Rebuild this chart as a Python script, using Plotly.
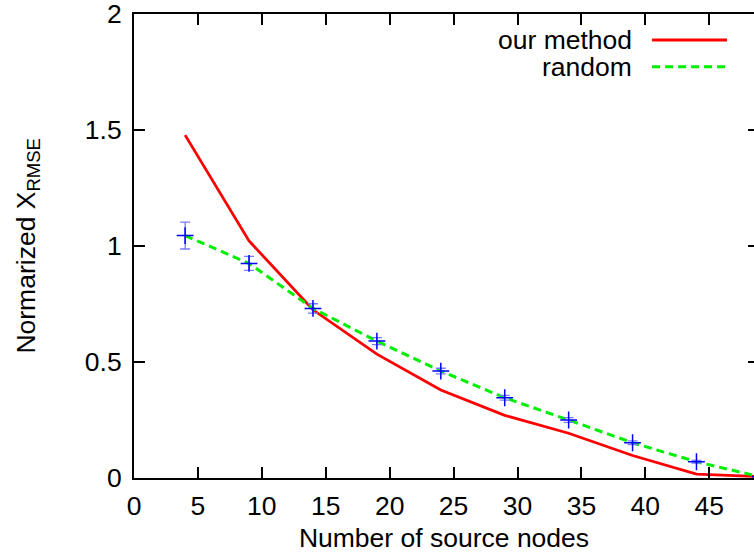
import plotly.graph_objects as go

# ---- data ----
x_nodes = [4, 9, 14, 19, 24, 29, 34, 39, 44, 49]
our_method = [1.478, 1.022, 0.725, 0.534, 0.379, 0.270, 0.193, 0.097, 0.017, 0.006]
random_mean = [1.045, 0.925, 0.731, 0.590, 0.461, 0.346, 0.250, 0.152, 0.070, 0.005]
random_err = [0.058, 0.030, 0.020, 0.015, 0.012, 0.010, 0.010, 0.008, 0.006, 0.004]
x_ticks = [0, 5, 10, 15, 20, 25, 30, 35, 40, 45]
y_ticks = [0, 0.5, 1, 1.5, 2]
y_tick_labels = ["0", "0.5", "1", "1.5", "2"]
legend_names = ["our method", "random"]

FONT = "Liberation Sans, Arial, sans-serif"
FS = 26.5
W, H = 754, 560
L, R, T, B = 133.5, 0, 14, 560 - 478
pw, ph = W - L - R, H - T - B

def px(xp):
    return (xp - L) / pw

def py(yp):
    return (H - B - yp) / ph

fig = go.Figure()

fig.add_trace(go.Scatter(
    x=x_nodes, y=our_method, mode="lines",
    line=dict(color="#ff0000", width=2.8), showlegend=False, name=legend_names[0]))

fig.add_trace(go.Scatter(
    x=x_nodes, y=random_mean, mode="lines",
    line=dict(color="#00ee00", width=3, dash="8px,5px"), showlegend=False, name=legend_names[1]))

fig.add_trace(go.Scatter(
    x=x_nodes, y=random_mean, mode="markers",
    marker=dict(symbol="cross-thin", size=12, line=dict(color="#0000ff", width=1.5)),
    error_y=dict(type="data", array=random_err, visible=True, color="#7a7aff", thickness=1.3, width=5),
    showlegend=False))

# dummy trace for right-side mirrored y ticks
fig.add_trace(go.Scatter(x=[], y=[], yaxis="y2", showlegend=False))

YR = [0, 2]
fig.update_layout(
    width=W, height=H,
    margin=dict(l=L, r=R, t=T, b=B, pad=0),
    paper_bgcolor="white", plot_bgcolor="white",
    font=dict(family=FONT, size=FS, color="black"),
    hovermode=False,
    xaxis=dict(range=[0, 48.5], tickvals=x_ticks, ticks="inside", ticklen=11, tickwidth=2,
               tickcolor="black", showline=True, linewidth=2, linecolor="black",
               mirror="ticks", showgrid=False, zeroline=False,
               ticklabelstandoff=3, tickfont=dict(size=FS), ticklabeloverflow="allow",
               title=dict(text="Number of source nodes", standoff=9, font=dict(size=FS))),
    yaxis=dict(range=YR, tickvals=y_ticks, ticktext=y_tick_labels, ticks="inside",
               ticklen=11, tickwidth=2, tickcolor="black", showline=True, linewidth=2,
               linecolor="black", showgrid=False, zeroline=False, ticklabelstandoff=5,
               tickfont=dict(size=FS), ticklabeloverflow="allow"),
    yaxis2=dict(range=YR, tickvals=y_ticks, overlaying="y", side="right",
                ticks="inside", ticklen=6, tickwidth=2, tickcolor="black",
                showticklabels=False, showline=False, showgrid=False, zeroline=False),
)

# y-axis title
fig.add_annotation(text="Normarized X<sub>RMSE</sub>", xref="paper", yref="paper",
                   x=px(27), y=py(246), textangle=-90, showarrow=False,
                   xanchor="center", yanchor="middle", font=dict(size=FS))

# legend (text right-aligned, sample line to the right)
legend_rows = [(40, "#ff0000", "solid", 2.8), (66.7, "#00ee00", "8px,5px", 3)]
for name, (yr, col, dash, lw) in zip(legend_names, legend_rows):
    fig.add_annotation(text=name, xref="paper", yref="paper", x=px(634), y=py(yr),
                       xanchor="right", yanchor="middle", showarrow=False, font=dict(size=FS))
    fig.add_shape(type="line", xref="paper", yref="paper", x0=px(652), x1=px(727),
                  y0=py(yr), y1=py(yr), line=dict(color=col, width=lw, dash=dash))

fig.write_html("out.html", config={"displayModeBar": False, "staticPlot": True},
               post_script="document.body.style.margin='0px';")
